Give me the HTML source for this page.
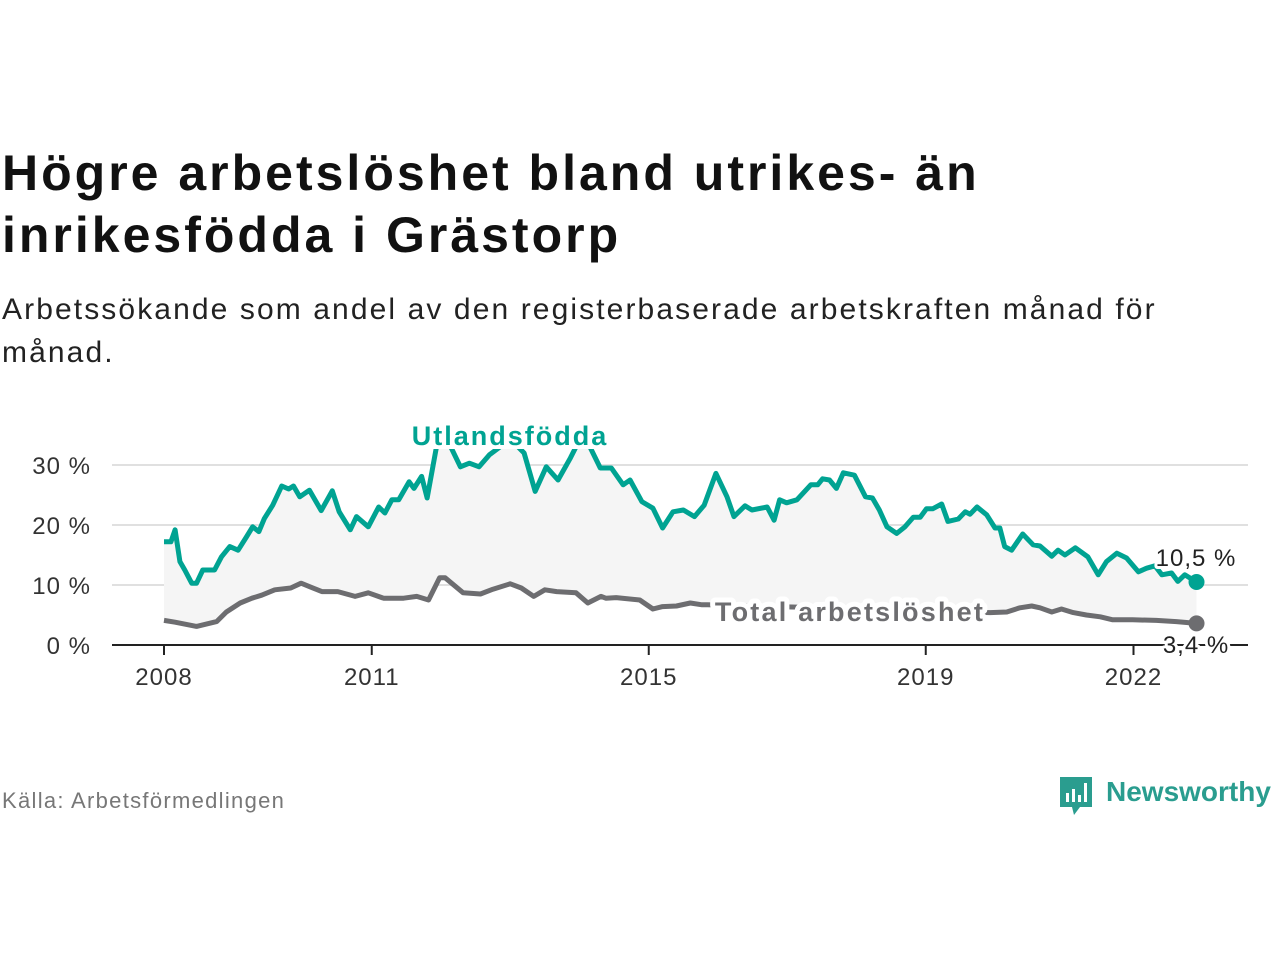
<!DOCTYPE html>
<html><head><meta charset="utf-8">
<style>
body{margin:0;background:#fff;width:1280px;height:960px;overflow:hidden;font-family:"Liberation Sans",sans-serif;}
#title{position:absolute;left:2px;top:142px;font-size:50px;font-weight:bold;line-height:62px;color:#111;letter-spacing:3px;}
#sub{position:absolute;left:2px;top:288px;font-size:30px;line-height:43px;color:#222;letter-spacing:2.1px;}
#src{position:absolute;left:2px;top:788px;font-size:22px;color:#777;letter-spacing:1.3px;}
#logo{position:absolute;left:1058px;top:773px;}
svg text{font-family:"Liberation Sans",sans-serif;}
</style></head><body>
<div id="title">Högre arbetslöshet bland utrikes- än<br>inrikesfödda i Grästorp</div>
<div id="sub">Arbetssökande som andel av den registerbaserade arbetskraften månad för<br>månad.</div>
<div id="src">Källa: Arbetsförmedlingen</div>
<div id="logo">
<svg width="222" height="46">
<path d="M2 4 h32 v30 h-12 l-6 8 l-2 -8 h-12 z" fill="#2a9d8f"/>
<rect x="8" y="20" width="3" height="9" fill="#fff"/><rect x="14" y="16" width="3" height="13" fill="#fff"/><rect x="20" y="22" width="3" height="7" fill="#fff"/><rect x="26" y="10" width="3" height="19" fill="#fff"/>
<text x="48" y="28" font-size="28" font-weight="bold" fill="#2a9d8f">Newsworthy</text>
</svg></div>
<svg id="chart" width="1280" height="960" style="position:absolute;left:0;top:0"></svg>
<script>
const foreignYears=[2008,2008.1,2008.16,2008.23,2008.3,2008.4,2008.47,2008.56,2008.73,2008.83,2008.95,2009.07,2009.19,2009.28,2009.37,2009.45,2009.57,2009.7,2009.8,2009.87,2009.96,2010.1,2010.27,2010.43,2010.53,2010.69,2010.78,2010.95,2011.1,2011.19,2011.29,2011.39,2011.54,2011.61,2011.72,2011.8,2011.95,2012.1,2012.28,2012.41,2012.55,2012.7,2012.85,2013.03,2013.2,2013.36,2013.52,2013.69,2013.87,2013.97,2014.13,2014.3,2014.46,2014.63,2014.73,2014.9,2015.06,2015.2,2015.35,2015.5,2015.66,2015.8,2015.97,2016.13,2016.23,2016.39,2016.49,2016.71,2016.81,2016.89,2016.99,2017.14,2017.34,2017.44,2017.51,2017.61,2017.71,2017.81,2017.97,2018.13,2018.23,2018.33,2018.44,2018.58,2018.70,2018.82,2018.92,2019.01,2019.10,2019.23,2019.32,2019.47,2019.57,2019.64,2019.74,2019.88,2020.0,2020.07,2020.14,2020.24,2020.40,2020.55,2020.65,2020.82,2020.91,2021.01,2021.16,2021.34,2021.49,2021.61,2021.76,2021.90,2022.07,2022.19,2022.31,2022.41,2022.55,2022.64,2022.74,2022.91];
const foreignValues=[17.2,17.2,19.2,13.9,12.5,10.3,10.3,12.5,12.5,14.7,16.4,15.8,18,19.7,18.9,21.1,23.3,26.5,26,26.5,24.7,25.8,22.4,25.7,22.2,19.2,21.4,19.7,23,22,24.2,24.2,27.2,26.1,28.1,24.5,34,34,29.7,30.3,29.7,31.7,33,34,32,25.6,29.7,27.5,31.2,33.5,33.5,29.5,29.5,26.7,27.5,23.9,22.8,19.5,22.2,22.5,21.4,23.3,28.6,24.7,21.4,23.2,22.5,23,20.8,24.2,23.7,24.2,26.7,26.7,27.7,27.5,26.1,28.7,28.3,24.7,24.5,22.5,19.7,18.6,19.7,21.3,21.3,22.7,22.7,23.5,20.6,21,22.2,21.8,23,21.7,19.5,19.5,16.4,15.8,18.5,16.7,16.5,14.8,15.8,15,16.2,14.7,11.7,13.9,15.3,14.5,12.2,12.8,13.2,11.7,12,10.6,11.7,10.5];
const totalYears=[2008,2008.16,2008.47,2008.76,2008.9,2009.1,2009.27,2009.41,2009.6,2009.83,2009.98,2010.13,2010.28,2010.51,2010.76,2010.95,2011.17,2011.46,2011.65,2011.82,2011.98,2012.06,2012.32,2012.57,2012.75,2013.0,2013.16,2013.34,2013.5,2013.67,2013.95,2014.12,2014.31,2014.38,2014.53,2014.87,2015.06,2015.2,2015.4,2015.6,2015.77,2015.85,2016.5,2017.5,2018.5,2019.3,2019.93,2020.17,2020.36,2020.53,2020.65,2020.82,2020.96,2021.13,2021.32,2021.52,2021.70,2021.99,2022.33,2022.62,2022.91];
const totalValues=[4.1,3.8,3.1,3.9,5.5,7,7.8,8.3,9.2,9.5,10.3,9.6,8.9,8.9,8.1,8.7,7.8,7.8,8.1,7.5,11.2,11.2,8.7,8.5,9.3,10.2,9.5,8.1,9.2,8.9,8.7,7,8.1,7.8,7.9,7.5,6,6.4,6.5,7,6.7,6.7,6.5,6.2,5.9,5.6,5.4,5.5,6.2,6.5,6.2,5.5,6,5.4,5,4.7,4.2,4.2,4.1,3.9,3.6];
const yTicks=[0,10,20,30];
const yTickLabels=["0 %","10 %","20 %","30 %"];
const xTicks=[2008,2011,2015,2019,2022];

const NS="http://www.w3.org/2000/svg";
const svg=document.getElementById('chart');
const X=y=>164+(y-2008)*69.25;
const Y=v=>645-v*6;
function mk(tag,attrs,parent){const e=document.createElementNS(NS,tag);for(const k in attrs)e.setAttribute(k,attrs[k]);(parent||svg).appendChild(e);return e;}
const defs=mk('defs',{});
const cp=mk('clipPath',{id:'clip'},defs);mk('rect',{x:100,y:449,width:1160,height:200},cp);

yTicks.forEach((t,i)=>{
  if(t>0){const g=mk('line',{x1:112,x2:1248,y1:Y(t),y2:Y(t),stroke:'#e0e0e0','stroke-width':2});
  
  }
  const l=mk('text',{x:91,y:Y(t)+9,'text-anchor':'end','font-size':24,fill:'#333','letter-spacing':1});l.textContent=yTickLabels[i];
  
  
});
const pts=(xs,vs)=>xs.map((x,i)=>X(x)+','+Y(vs[i]));
const area=mk('polygon',{points:pts(foreignYears,foreignValues).concat(pts(totalYears,totalValues).reverse()).join(' '),fill:'#f5f5f5','clip-path':'url(#clip)'});


const ax=mk('line',{x1:112,x2:1248,y1:645,y2:645,stroke:'#222','stroke-width':2});


xTicks.forEach(t=>{
  mk('line',{x1:X(t),x2:X(t),y1:645,y2:655,stroke:'#222','stroke-width':2});
  const l=mk('text',{x:X(t),y:685,'text-anchor':'middle','font-size':24,fill:'#333','letter-spacing':1});l.textContent=t;
  
  
});
const tl=mk('polyline',{points:pts(totalYears,totalValues).join(' '),fill:'none',stroke:'#6d6d70','stroke-width':5,'stroke-linejoin':'round'});


const fl=mk('polyline',{points:pts(foreignYears,foreignValues).join(' '),fill:'none',stroke:'#00a392','stroke-width':5,'stroke-linejoin':'round','clip-path':'url(#clip)'});


const fe=foreignYears.length-1, te=totalYears.length-1;
const d1=mk('circle',{cx:X(foreignYears[fe]),cy:Y(foreignValues[fe]),r:8,fill:'#00a392'});


const d2=mk('circle',{cx:X(totalYears[te]),cy:Y(totalValues[te]),r:8,fill:'#6d6d70'});


function label(txt,x,y,opts,name,halo){
  const h=mk('text',Object.assign({x:x,y:y,stroke:'#fff','stroke-width':halo,'stroke-linejoin':'round',fill:'#fff'},opts));h.textContent=txt;
  const t=mk('text',Object.assign({x:x,y:y},opts));t.textContent=txt;
  
  
}
label('Utlandsfödda',510,445,{'text-anchor':'middle','font-size':27,'font-weight':'bold',fill:'#00a392','letter-spacing':2},'foreign-born-label',6);
label('Total arbetslöshet',850,621,{'text-anchor':'middle','font-size':27,'font-weight':'bold',fill:'#6d6d70','letter-spacing':2.2},'total-label',10);
label('10,5 %',1196,566,{'text-anchor':'middle','font-size':24,fill:'#222','letter-spacing':1},'foreign-end-value',6);
label('3,4 %',1196,653,{'text-anchor':'middle','font-size':24,fill:'#222','letter-spacing':1},'total-end-value',6);
</script>
</body></html>
